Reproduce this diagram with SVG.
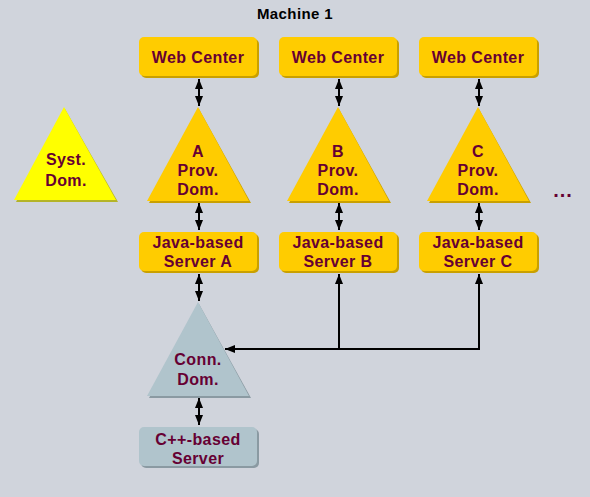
<svg xmlns="http://www.w3.org/2000/svg" width="590" height="497" viewBox="0 0 590 497">
<defs>
<marker id="ah" viewBox="0 0 10 10" refX="10" refY="5" markerWidth="5" markerHeight="5" orient="auto-start-reverse" markerUnits="strokeWidth">
<path d="M0,1 L10,5 L0,9 z" fill="#000"/>
</marker>
</defs>
<style>
.bx{fill:#ffcc00}
.bxs{fill:#c9a000}
.gx{fill:#b0c4cc}
.gxs{fill:#8a9aa2}
.t{font-family:"Liberation Sans",Arial,sans-serif;font-weight:bold;font-size:16px;fill:#660033;text-anchor:middle;letter-spacing:0.4px}
.ca{stroke:#000;stroke-width:2;fill:none;marker-start:url(#ah);marker-end:url(#ah)}
.ce{stroke:#000;stroke-width:2;fill:none;marker-end:url(#ah)}
</style>
<rect width="590" height="497" fill="#d0d4dc"/>
<text x="295" y="19" font-family="Liberation Sans,Arial,sans-serif" font-weight="bold" font-size="15" text-anchor="middle" fill="#000" letter-spacing="0.4">Machine 1</text>

<g id="connectors">
<line class="ca" x1="199" y1="79" x2="199" y2="106"/>
<line class="ca" x1="339" y1="79" x2="339" y2="106"/>
<line class="ca" x1="479" y1="79" x2="479" y2="106"/>
<line class="ca" x1="199" y1="203" x2="199" y2="230"/>
<line class="ca" x1="339" y1="203" x2="339" y2="230"/>
<line class="ca" x1="479" y1="203" x2="479" y2="230"/>
<line class="ca" x1="199" y1="274" x2="199" y2="301"/>
<line class="ca" x1="199" y1="398" x2="199" y2="425"/>
<line class="ce" x1="339" y1="349" x2="339" y2="274"/>
<line class="ce" x1="479" y1="350" x2="479" y2="274"/>
<line class="ce" x1="480" y1="349" x2="225" y2="349"/>
</g>

<g id="webcenterA">
<rect class="bxs" x="141" y="39" width="118" height="39" rx="5"/>
<rect class="bx" x="139" y="37" width="118" height="39" rx="5"/>
<text class="t" x="198" y="63">Web Center</text>
</g>
<g id="webcenterB">
<rect class="bxs" x="281" y="39" width="118" height="39" rx="5"/>
<rect class="bx" x="279" y="37" width="118" height="39" rx="5"/>
<text class="t" x="338" y="63">Web Center</text>
</g>
<g id="webcenterC">
<rect class="bxs" x="421" y="39" width="118" height="39" rx="5"/>
<rect class="bx" x="419" y="37" width="118" height="39" rx="5"/>
<text class="t" x="478" y="63">Web Center</text>
</g>

<g id="provA">
<polygon class="bxs" points="199,109 251,203 149,203"/>
<polygon class="bx" points="198,107 249,201 147,201"/>
<text class="t" x="198" y="157">A</text>
<text class="t" x="198" y="176">Prov.</text>
<text class="t" x="198" y="195">Dom.</text>
</g>
<g id="provB">
<polygon class="bxs" points="339,109 391,203 289,203"/>
<polygon class="bx" points="338,107 389,201 287,201"/>
<text class="t" x="338" y="157">B</text>
<text class="t" x="338" y="176">Prov.</text>
<text class="t" x="338" y="195">Dom.</text>
</g>
<g id="provC">
<polygon class="bxs" points="479,109 531,203 429,203"/>
<polygon class="bx" points="478,107 529,201 427,201"/>
<text class="t" x="478" y="157">C</text>
<text class="t" x="478" y="176">Prov.</text>
<text class="t" x="478" y="195">Dom.</text>
</g>

<g id="systDom">
<polygon fill="#b4b428" points="65,109 118,202 16,202"/>
<polygon fill="#ffff00" points="64,107 116,200 14,200"/>
<text class="t" x="66" y="165">Syst.</text>
<text class="t" x="66" y="186">Dom.</text>
</g>

<g id="serverA">
<rect class="bxs" x="141" y="234" width="118" height="39" rx="5"/>
<rect class="bx" x="139" y="232" width="118" height="39" rx="5"/>
<text class="t" x="198" y="248">Java-based</text>
<text class="t" x="198" y="267">Server A</text>
</g>
<g id="serverB">
<rect class="bxs" x="281" y="234" width="118" height="39" rx="5"/>
<rect class="bx" x="279" y="232" width="118" height="39" rx="5"/>
<text class="t" x="338" y="248">Java-based</text>
<text class="t" x="338" y="267">Server B</text>
</g>
<g id="serverC">
<rect class="bxs" x="421" y="234" width="118" height="39" rx="5"/>
<rect class="bx" x="419" y="232" width="118" height="39" rx="5"/>
<text class="t" x="478" y="248">Java-based</text>
<text class="t" x="478" y="267">Server C</text>
</g>

<g id="connDom">
<polygon class="gxs" points="199,304 251,398 149,398"/>
<polygon class="gx" points="198,302 249,396 147,396"/>
<text class="t" x="198" y="365">Conn.</text>
<text class="t" x="198" y="385">Dom.</text>
</g>

<g id="cppServer">
<rect class="gxs" x="141" y="429" width="118" height="39" rx="5"/>
<rect class="gx" x="139" y="427" width="118" height="39" rx="5"/>
<text class="t" x="198" y="445">C++-based</text>
<text class="t" x="198" y="464">Server</text>
</g>

<text class="t" x="563" y="197" style="font-size:20px;letter-spacing:1px">...</text>
</svg>
